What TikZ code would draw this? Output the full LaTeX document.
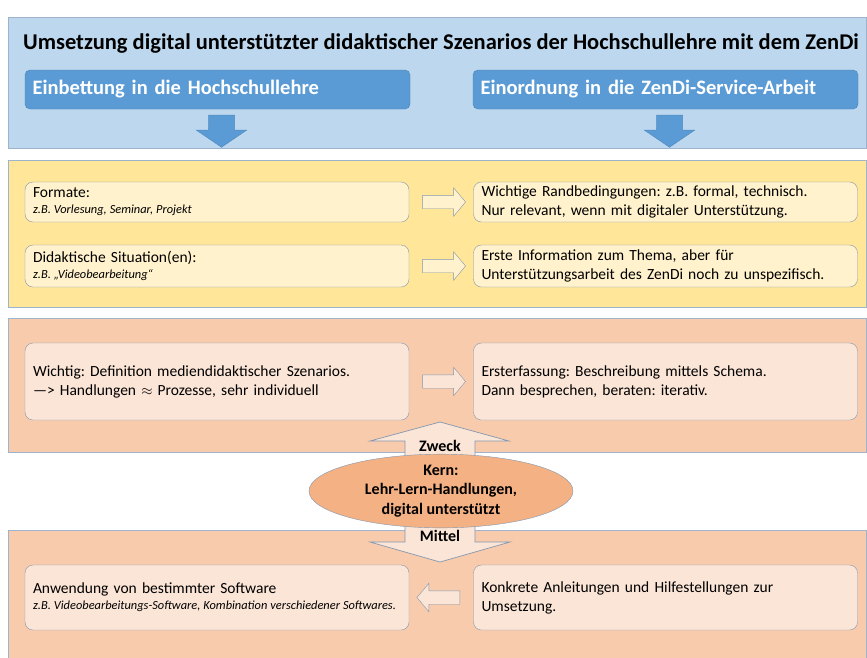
\documentclass[tikz,border=0pt]{standalone}
\usepackage{fontspec}
\setmainfont{Carlito}
\frenchspacing
\definecolor{zdbandblue}{HTML}{BDD7EE}
\definecolor{zdblue}{HTML}{5B9BD5}
\definecolor{zdbluedark}{HTML}{4A80B5}
\definecolor{zdbandline}{HTML}{9EB4CC}
\definecolor{zdbandyellow}{HTML}{FFE699}
\definecolor{zdcream}{HTML}{FFF2CC}
\definecolor{zdboxline}{HTML}{8497B0}
\definecolor{zdbandorange}{HTML}{F8CBAD}
\definecolor{zdpeach}{HTML}{FBE5D6}
\definecolor{zdkern}{HTML}{F4B183}
\usetikzlibrary{positioning,calc,shapes.geometric,shapes.arrows}
\newcommand{\zdsub}[1]{{\fontsize{12.4}{14}\selectfont\itshape\spaceskip=0.24em plus 0.1em #1}}

\begin{document}
\begin{tikzpicture}[x=1pt,y=-1pt,
  band/.style={draw=zdbandline,line width=0.8pt},
  headbox/.style={draw=zdbluedark,fill=zdblue,rounded corners=5pt,minimum width=385pt,minimum height=39pt,text width=370pt,align=left,text=white,font=\fontsize{20.5}{24}\selectfont\bfseries},
  infobox/.style={draw=zdboxline,rounded corners=8pt,minimum width=384pt,text width=368pt,align=left,font=\fontsize{15.5}{19}\selectfont},
  hollow/.style={single arrow,draw=zdboxline,minimum height=43pt,inner xsep=0pt,inner ysep=6.5pt,single arrow head extend=7.5pt,single arrow tip angle=100},
  bluearrow/.style={fill=zdblue,draw=zdblue!90!black,line width=0.5pt},
  kernarrow/.style={fill=zdpeach,draw=zdboxline,line width=0.7pt},
  kerntext/.style={font=\fontsize{16}{19.5}\selectfont\bfseries}]
  \useasboundingbox (0,0) rectangle (867,657);
  % Bands
  \fill[white] (0,0) rectangle (867,657);
  \draw[band,fill=zdbandblue] (8,17) rectangle (866,148);
  \draw[band,fill=zdbandyellow] (8,160) rectangle (866,307);
  \draw[band,fill=zdbandorange] (8,318) rectangle (866,452);
  \draw[band,fill=zdbandorange] (8,530) rectangle (866,662);
  % Title and headers
  \node[font=\fontsize{22.5}{26}\selectfont\bfseries] (title) at (441,43) {Umsetzung digital unterstützter didaktischer Szenarios der Hochschullehre mit dem ZenDi};
  \node[headbox] (einb) at (217.5,89.5) {Einbettung in die Hochschullehre};
  \node[headbox] (einord) at (665.5,89.5) {Einordnung in die ZenDi-Service-Arbeit};
  \draw[bluearrow] ($(einb.south)+(-9,6)$) -- ++(0,15) -- ++(-12,0) -- ++(25,17) -- ++(25,-17) -- ++(-12,0) -- ++(0,-15) -- cycle;
  \draw[bluearrow] ($(einord.south)+(-9,6)$) -- ++(0,15) -- ++(-12,0) -- ++(25,17) -- ++(25,-17) -- ++(-12,0) -- ++(0,-15) -- cycle;
  % Yellow band
  \node[infobox,fill=zdcream,minimum height=40pt] (formate) at (217,202) {Formate:\\[-3pt]\zdsub{z.B. Vorlesung, Seminar, Projekt}};
  \node[infobox,fill=zdcream,minimum height=42pt] (situation) at (217,266) {Didaktische Situation(en):\\[-3pt]\zdsub{z.B. „Videobearbeitung“}};
  \node[infobox,fill=zdcream,minimum height=40pt] (rand) at (665.5,202) {Wichtige Randbedingungen: z.B. formal, technisch.\\Nur relevant, wenn mit digitaler Unterstützung.};
  \node[infobox,fill=zdcream,minimum height=42pt] (info) at (665.5,266) {Erste Information zum Thema, aber für\\Unterstützungsarbeit des ZenDi noch zu unspezifisch.};
  \node[hollow,fill=zdcream] (a1) at ($(formate.east)!0.5!(rand.west)$) {};
  \node[hollow,fill=zdcream] (a2) at ($(situation.east)!0.5!(info.west)$) {};
  % Orange band
  \node[infobox,fill=zdpeach,minimum height=77pt] (wichtig) at (217,381.5) {Wichtig: Definition mediendidaktischer Szenarios.\\—> Handlungen \ensuremath{\approx} Prozesse, sehr individuell};
  \node[infobox,fill=zdpeach,minimum height=77pt] (erst) at (665.5,381.5) {Ersterfassung: Beschreibung mittels Schema.\\Dann besprechen, beraten: iterativ.};
  \node[hollow,fill=zdpeach] (a3) at ($(wichtig.east)!0.5!(erst.west)$) {};
  \node[infobox,fill=zdpeach,minimum height=65pt] (anw) at (217,597.5) {Anwendung von bestimmter Software\\[-3pt]\zdsub{z.B. Videobearbeitungs-Software, Kombination verschiedener Softwares.}};
  \node[infobox,fill=zdpeach,minimum height=65pt] (konkret) at (665.5,597.5) {Konkrete Anleitungen und Hilfestellungen zur\\Umsetzung.};
  \node[hollow,fill=zdpeach,shape border rotate=180] (a4) at ($(anw.east)!0.5!(konkret.west)$) {};
  % Kern with Zweck and Mittel
  \draw[kernarrow] (405,472) -- (405,441) -- (370,441) -- (440,422) -- (509,441) -- (475,441) -- (475,472) -- cycle;
  \draw[kernarrow] (405,512) -- (405,542) -- (370,542) -- (440,562) -- (510,542) -- (475,542) -- (475,512) -- cycle;
  \node[kerntext] (zweck) at (440,446) {Zweck};
  \node[kerntext] (mittel) at (440,536) {Mittel};
  \node[ellipse,draw=zdboxline,fill=zdkern,minimum width=264pt,minimum height=64pt,inner sep=0pt,align=center,kerntext] (kern) at (441,491) {Kern:\\Lehr-Lern-Handlungen,\\digital unterstützt};
\end{tikzpicture}
\end{document}
